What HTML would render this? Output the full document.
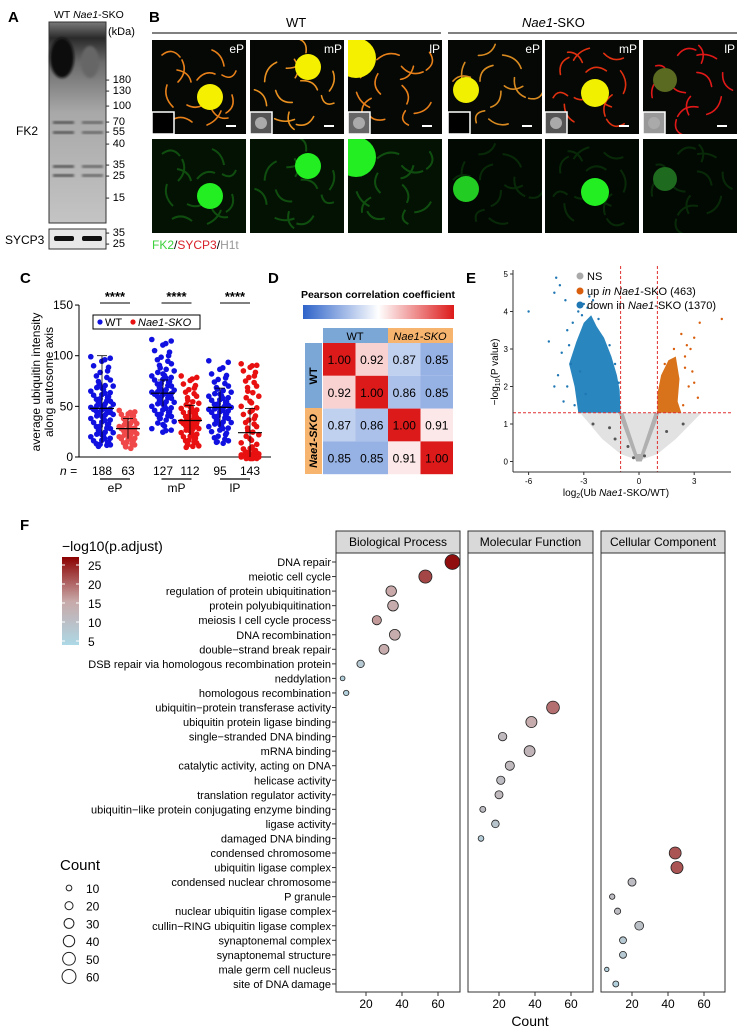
<!DOCTYPE html>
<html><head><meta charset="utf-8">
<style>
html,body{margin:0;padding:0;background:#fff;}
svg{display:block;font-family:"Liberation Sans",Arial,sans-serif;}
</style></head>
<body>
<svg id="fig" width="742" height="1029" viewBox="0 0 742 1029" xmlns="http://www.w3.org/2000/svg">
<defs>
<linearGradient id="blotGrad" x1="0" y1="0" x2="0" y2="1">
<stop offset="0" stop-color="#7a7a7a"/><stop offset="0.08" stop-color="#2a2a2a"/><stop offset="0.2" stop-color="#6a6a6a"/><stop offset="0.45" stop-color="#a8a8a8"/><stop offset="1" stop-color="#c4c4c4"/>
</linearGradient>
<linearGradient id="pearsonGrad" x1="0" y1="0" x2="1" y2="0">
<stop offset="0" stop-color="#2e63c9"/><stop offset="0.5" stop-color="#ffffff"/><stop offset="1" stop-color="#dd1a1a"/>
</linearGradient>
<linearGradient id="padjGrad" x1="0" y1="1" x2="0" y2="0">
<stop offset="0" stop-color="#add8e6"/><stop offset="0.5" stop-color="#c8a8a8"/><stop offset="1" stop-color="#8b0000"/>
</linearGradient>
<filter id="blur1"><feGaussianBlur stdDeviation="1.2"/></filter>
<clipPath id="tileClip"><rect x="0" y="0" width="94" height="94"/></clipPath>
</defs>
<g id="root"></g>
</svg>
<script>
// ---------- Panel C data ----------
const cGroups = ["WT eP","KO eP","WT mP","KO mP","WT lP","KO lP"];
const cCounts = ["188","63","127","112","95","143"];
const cStages = ["eP","mP","lP"];
const cMedians = [48,28,63,36,49,24];
const cSdLow = [14,18,50,22,30,0];
const cSdHigh = [100,38,76,51,68,48];
const cWTeP = [99,96,90,85,80,76,72,70,68,65,63,61,59,57,55,54,52,50,49,48,47,46,45,44,43,42,40,38,36,34,32,30,28,26,24,22,20,18,16,14,13,12];
const cKOeP = [46,44,42,40,38,36,35,33,32,30,29,28,27,26,25,24,23,22,20,19,18,16,14,12,10];
const cWTmP = [116,112,105,100,96,92,88,85,82,80,78,76,74,72,70,68,66,65,64,63,62,61,60,58,56,54,52,50,48,46,44,42,40,38,35,32,28,26];
const cKOmP = [80,77,72,68,64,60,56,53,50,48,46,44,42,40,39,38,37,36,35,34,33,32,31,30,29,28,26,24,22,20,18,16,14,12,11];
const cWTlP = [95,88,82,78,74,70,67,64,62,60,58,56,54,52,51,50,49,48,47,46,44,42,40,38,36,34,32,30,28,25,22,19,16,15];
const cKOlP = [92,90,85,80,75,70,65,60,55,50,46,42,38,34,30,26,22,18,14,10,8,6,5,4,4,3,3,2,2,2,1,1,1,0,0,0,0,0];
const cYTicks = [0,50,100,150];
// ---------- Panel D data ----------
const dLabels = ["WT","Nae1-SKO"];
const dRow1 = [1.00,0.92,0.87,0.85];
const dRow2 = [0.92,1.00,0.86,0.85];
const dRow3 = [0.87,0.86,1.00,0.91];
const dRow4 = [0.85,0.85,0.91,1.00];
// ---------- Panel E data ----------
const eXTicks = [-6,-3,0,3];
const eYTicks = [0,1,2,3,4,5];
const eDownHull = [[-1,1.3],[-1.05,1.9],[-1.2,2.3],[-1.5,2.8],[-1.9,3.3],[-2.3,3.6],[-2.6,3.9],[-3.0,3.7],[-3.4,3.2],[-3.8,2.6],[-3.5,2.0],[-3.3,1.3]];
const eUpHull = [[1,1.3],[1,1.8],[1.2,2.3],[1.6,2.7],[2.0,2.8],[2.2,2.2],[2.1,1.6],[2.3,1.3]];
const eNsLight = [[-3.2,1.3],[-2,0.6],[-1,0.2],[0,0.02],[1,0.2],[2,0.6],[3.4,1.3]];
const eNsV = [[-0.15,0],[0.15,0],[0.9,1.0],[1.1,1.3],[0.85,1.3],[0.1,0.2],[-0.1,0.2],[-0.85,1.3],[-1.1,1.3],[-0.9,1.0]];
const eDownPts = [[-6,4.0],[-4.5,4.9],[-4.3,4.7],[-4.6,4.5],[-4.0,4.3],[-4.9,3.2],[-4.2,2.9],[-3.9,3.5],[-3.6,3.7],[-3.3,4.0],[-3.0,4.2],[-2.8,4.1],[-4.4,2.3],[-3.7,2.6],[-4.1,1.6],[-3.5,1.5],[-3.9,2.0],[-2.5,4.3],[-2.7,4.4],[-3.1,3.9],[-2.2,3.8],[-1.6,3.1],[-1.3,2.6],[-3.8,3.1],[-4.6,2.0],[-3.2,2.4],[-2.9,1.8],[-1.1,2.1]];
const eUpPts = [[4.5,3.8],[3.3,3.7],[3.0,3.3],[2.8,3.0],[2.5,2.8],[2.6,3.1],[2.9,2.4],[2.7,2.0],[3.2,1.7],[2.4,1.5],[2.5,2.5],[3.0,2.1],[2.3,3.4],[1.9,3.0],[1.4,2.6]];
const eNsPts = [[-1.6,0.9],[-1.3,0.6],[-0.6,0.4],[0.3,0.15],[1.5,0.8],[-2.5,1.0],[2.4,1.0],[-0.3,0.1]];
// ---------- Panel F data ----------
const fTerms = ["DNA repair","meiotic cell cycle","regulation of protein ubiquitination","protein polyubiquitination","meiosis I cell cycle process","DNA recombination","double\u2212strand break repair","DSB repair via homologous recombination protein","neddylation","homologous recombination","ubiquitin\u2212protein transferase activity","ubiquitin protein ligase binding","single\u2212stranded DNA binding","mRNA binding","catalytic activity, acting on DNA","helicase activity","translation regulator activity","ubiquitin\u2212like protein conjugating enzyme binding","ligase activity","damaged DNA binding","condensed chromosome","ubiquitin ligase complex","condensed nuclear chromosome","P granule","nuclear ubiquitin ligase complex","cullin\u2212RING ubiquitin ligase complex","synaptonemal complex","synaptonemal structure","male germ cell nucleus","site of DNA damage"];
const fFacet = [0,0,0,0,0,0,0,0,0,0,1,1,1,1,1,1,1,1,1,1,2,2,2,2,2,2,2,2,2,2];
const fCount = [68,53,34,35,26,36,30,17,7,9,50,38,22,37,26,21,20,11,18,10,44,45,20,9,12,24,15,15,6,11];
const fPadj = [26,22,15,14,16,14,14,7,5,5,19,14,11,12,11,10,11,10,8,6,21,21,10,10,10,9,7,7,5,5];
const fFacetNames = ["Biological Process","Molecular Function","Cellular Component"];
const fXTicks = [20,40,60];
const fSizeLegend = [10,20,30,40,50,60];
const fColorTicks = [5,10,15,20,25];
// ---------- Panel A data ----------
const aMarkers = ["180","130","100","70","55","40","35","25","15"];
const aMarkerY = [79,90,105,121,131,143,164,175,197];

const NS="http://www.w3.org/2000/svg";
const root=document.getElementById('root');
function el(tag,attrs,parent){const e=document.createElementNS(NS,tag);for(const k in attrs)e.setAttribute(k,attrs[k]);(parent||root).appendChild(e);return e;}
function txt(s,x,y,attrs,parent){const t=el('text',Object.assign({x:x,y:y,'font-size':11,fill:'#000'},attrs||{}),parent);t.textContent=s;return t;}

// ================= Panel A =================
const gA=el('g',{});


txt('A',8,22,{'font-size':15,'font-weight':'bold'},gA);
const hA=txt('WT ',54,18,{'font-size':10.5},gA);
const hAi=el('tspan',{'font-style':'italic'},hA);hAi.textContent='Nae1';
const hAs=el('tspan',{},hA);hAs.textContent='-SKO';
txt('(kDa)',108,35,{'font-size':11},gA);
const blot=el('rect',{x:49,y:22,width:57,height:201,fill:'url(#blotGrad)',stroke:'#333','stroke-width':1},gA);


el('ellipse',{cx:62,cy:58,rx:12,ry:20,fill:'#111',filter:'url(#blur1)'},gA);
el('ellipse',{cx:90,cy:62,rx:9,ry:16,fill:'#666',filter:'url(#blur1)'},gA);
[121,131,165,174].forEach((y,i)=>{el('rect',{x:53,y:y,width:21,height:3,fill:'#555',filter:'url(#blur1)'},gA);el('rect',{x:82,y:y,width:21,height:3,fill:'#666',filter:'url(#blur1)'},gA);});
txt('FK2',16,135,{'font-size':12},gA);
aMarkers.forEach((m,i)=>{txt('- '+m,106,aMarkerY[i]+4,{'font-size':11},gA);});
const sy=el('rect',{x:49,y:229,width:57,height:20,fill:'#e8e8e8',stroke:'#333','stroke-width':1},gA);


el('rect',{x:54,y:236,width:20,height:5,rx:2,fill:'#111'},gA);
el('rect',{x:82,y:236,width:20,height:5,rx:2,fill:'#111'},gA);
txt('SYCP3',5,244,{'font-size':12},gA);
txt('- 35',106,236,{'font-size':11},gA);
txt('- 25',106,247,{'font-size':11},gA);

// ================= Panel B =================
const gB=el('g',{});


txt('B',149,22,{'font-size':15,'font-weight':'bold'},gB);
txt('WT',286,27,{'font-size':13},gB);
el('line',{x1:152,y1:33,x2:441,y2:33,stroke:'#000','stroke-width':1},gB);
const koT=txt('',522,27,{'font-size':13},gB);
const koI=el('tspan',{'font-style':'italic'},koT);koI.textContent='Nae1';
const koS=el('tspan',{},koT);koS.textContent='-SKO';
el('line',{x1:448,y1:33,x2:737,y2:33,stroke:'#000','stroke-width':1},gB);
const tileX=[152,250,348,448,545,643];
const tileLab=['eP','mP','lP','eP','mP','lP'];
const blobs=[[58,57,13],[58,27,13],[8,18,20],[18,50,13],[50,53,14],[22,40,12]];
const topBlobCol=['#f5f000','#f5f000','#f5f000','#f0f000','#f0f000','#5a6a20'];
const lineCol=['#e8801a','#e89020','#e8801a','#d88a20','#e03010','#e01818'];
const botBlobCol=['#22ee22','#22ee22','#22ee22','#22cc22','#22ee22','#1e6a1e'];
const insetCol=['#000','#555','#666','#000','#555','#999'];
const curves=["M10 15 q10 -8 18 2","M30 20 q6 12 -4 22","M60 10 q10 4 12 16","M70 35 q10 6 14 -4","M15 45 q-4 12 6 22","M35 65 q12 6 20 -4","M60 70 q6 10 16 8","M20 80 q10 -6 20 2","M45 40 q8 -10 18 -6","M80 55 q4 12 -6 18","M25 30 q12 2 14 12","M55 85 q10 -4 14 -14"];
tileX.forEach((x,i)=>{
 const g=el('g',{transform:`translate(${x},40)`},gB);
 
 
 const gc=el('g',{'clip-path':'url(#tileClip)'},g);
 el('rect',{x:0,y:0,width:94,height:94,fill:'#050805'},gc);
 const cg=el('g',{transform:`rotate(${i*47} 47 47)`},gc);
 curves.forEach(c=>el('path',{d:c,fill:'none',stroke:lineCol[i],'stroke-width':1.6,'stroke-linecap':'round'},cg));
 el('circle',{cx:blobs[i][0],cy:blobs[i][1],r:blobs[i][2],fill:topBlobCol[i]},gc);
 el('rect',{x:0,y:72,width:22,height:22,fill:insetCol[i],stroke:'#fff','stroke-width':1.5},gc);
 if(insetCol[i]!=='#000')el('circle',{cx:11,cy:83,r:6,fill:'#aaa'},gc);
 el('line',{x1:74,y1:86,x2:84,y2:86,stroke:'#fff','stroke-width':2},gc);
 txt(tileLab[i],92,13,{'font-size':12,fill:'#fff','text-anchor':'end'},gc);
 const g2=el('g',{transform:`translate(${x},139)`},gB);
 
 
 const gc2=el('g',{'clip-path':'url(#tileClip)'},g2);
 el('rect',{x:0,y:0,width:94,height:94,fill:i<3?'#041204':'#020902'},gc2);
 const cg2=el('g',{transform:`rotate(${i*47} 47 47)`,opacity:i<3?0.5:0.25},gc2);
 curves.forEach(c=>el('path',{d:c,fill:'none',stroke:'#1a8a1a','stroke-width':2},cg2));
 el('circle',{cx:blobs[i][0],cy:blobs[i][1],r:blobs[i][2],fill:botBlobCol[i]},gc2);
});
const lg=txt('',152,249,{'font-size':12},gB);
[['FK2','#3ad13a'],['/','#000'],['SYCP3','#d8202a'],['/','#000'],['H1t','#999']].forEach(p=>{const t=el('tspan',{fill:p[1]},lg);t.textContent=p[0];});

// ================= Panel C =================
const gC=el('g',{});


txt('C',20,283,{'font-size':15,'font-weight':'bold'},gC);
const cY=v=>457-v*1.013;
const cGX=[102,128,163,190,220,250];
el('line',{x1:79,y1:cY(150),x2:79,y2:457,stroke:'#000'},gC);
el('line',{x1:79,y1:457,x2:271,y2:457,stroke:'#000'},gC);
cYTicks.forEach(v=>{el('line',{x1:75,y1:cY(v),x2:79,y2:cY(v),stroke:'#000'},gC);txt(String(v),73,cY(v)+4,{'font-size':12,'text-anchor':'end'},gC);});
const yt=txt('',0,0,{'font-size':12,'text-anchor':'middle',transform:'translate(40,382) rotate(-90)'},gC);
const yt1=el('tspan',{x:0,dy:0},yt);yt1.textContent='average ubiquitin intensity';
const yt2=el('tspan',{x:0,dy:13},yt);yt2.textContent='along autosome axis';
const cSets=[cWTeP,cKOeP,cWTmP,cKOmP,cWTlP,cKOlP];
cSets.forEach((vals,gi)=>{
 const col=gi%2===0?'#1010e0':(gi===1?'#f04848':'#e81010');
 const gg=el('g',{},gC);
 
 
 vals.forEach((v,j)=>{
   const off=((j*5)%9-4)*(gi%2===0?2.8:2.2);
   const c=el('circle',{cx:cGX[gi]+off,cy:cY(v),r:2.8,fill:col},gg);
   
   
   const c2=el('circle',{cx:cGX[gi]-off*0.6+1.5,cy:cY(v)+1.5,r:2.8,fill:col},gg);
   
   
 });
 el('line',{x1:cGX[gi]-12,x2:cGX[gi]+12,y1:cY(cMedians[gi]),y2:cY(cMedians[gi]),stroke:'#000','stroke-width':1.2},gg);
 el('line',{x1:cGX[gi],x2:cGX[gi],y1:cY(cSdLow[gi]),y2:cY(cSdHigh[gi]),stroke:'#000','stroke-width':0.8},gg);
 el('line',{x1:cGX[gi]-5,x2:cGX[gi]+5,y1:cY(cSdHigh[gi]),y2:cY(cSdHigh[gi]),stroke:'#000','stroke-width':0.8},gg);
 txt(cCounts[gi],cGX[gi],475,{'font-size':12,'text-anchor':'middle'},gC);
});
txt('n =',60,475,{'font-size':12,'font-style':'italic'},gC);
cStages.forEach((s,i)=>{
 const cx=(cGX[i*2]+cGX[i*2+1])/2;
 el('line',{x1:cx-15,x2:cx+15,y1:479,y2:479,stroke:'#000','stroke-width':1.2},gC);
 txt(s,cx,492,{'font-size':12,'text-anchor':'middle'},gC);
 txt('****',cx,301,{'font-size':13,'text-anchor':'middle','font-weight':'bold'},gC);
 el('line',{x1:cx-15,x2:cx+15,y1:303,y2:303,stroke:'#000'},gC);
});
const leg=el('g',{},gC);


el('rect',{x:93,y:315,width:107,height:14,fill:'#fff',stroke:'#000'},leg);
el('circle',{cx:100,cy:322,r:2.6,fill:'#1010e0'},leg);
txt('WT',105,326,{'font-size':11},leg);
el('circle',{cx:133,cy:322,r:2.6,fill:'#e81010'},leg);
txt('Nae1-SKO',138,326,{'font-size':11,'font-style':'italic'},leg);

// ================= Panel D =================
const gD=el('g',{});


txt('D',268,283,{'font-size':15,'font-weight':'bold'},gD);
txt('Pearson correlation coefficient',378,298,{'font-size':10.5,'font-weight':'bold','text-anchor':'middle'},gD);
el('rect',{x:303,y:305,width:151,height:14,fill:'url(#pearsonGrad)'},gD);
function dColor(v){const mid=0.9;let t=Math.min(1,Math.abs(v-mid)/0.1);const w=[255,255,255];const c=v>=mid?[221,26,26]:[46,99,201];return 'rgb('+w.map((a,k)=>Math.round(a+(c[k]-a)*t)).join(',')+')';}
el('rect',{x:323,y:328,width:65,height:15,fill:'#7ba7d6'},gD);
el('rect',{x:388,y:328,width:65,height:15,fill:'#f7b46e'},gD);
txt('WT',355,340,{'font-size':11,'text-anchor':'middle'},gD);
txt('Nae1-SKO',420,340,{'font-size':11,'font-style':'italic','text-anchor':'middle'},gD);
el('rect',{x:305,y:343,width:17,height:65,fill:'#7ba7d6'},gD);
el('rect',{x:305,y:408,width:17,height:66,fill:'#f7b46e'},gD);
txt('WT',0,0,{'font-size':11,'text-anchor':'middle','font-weight':'bold',transform:'translate(317,376) rotate(-90)'},gD);
txt('Nae1-SKO',0,0,{'font-size':11,'font-style':'italic','font-weight':'bold','text-anchor':'middle',transform:'translate(317,441) rotate(-90)'},gD);
[dRow1,dRow2,dRow3,dRow4].forEach((row,r)=>{row.forEach((v,c)=>{
 const x=323+c*32.5,y=343+r*32.8;
 const cell=el('rect',{x:x,y:y,width:32.5,height:32.8,fill:dColor(v)},gD);
 
 
 txt(v.toFixed(2),x+16.25,y+21,{'font-size':12,'text-anchor':'middle'},gD);
});});

// ================= Panel E =================
const gE=el('g',{});


txt('E',466,283,{'font-size':15,'font-weight':'bold'},gE);
const eX=v=>639+v*18.4, eY=v=>461.5-v*37.5;
const poly=(pts,fill)=>el('polygon',{points:pts.map(p=>eX(p[0])+','+eY(p[1])).join(' '),fill:fill},gE);
poly(eNsLight,'#e2e2e2');
poly(eNsV,'#b0b0b0');
const dh=poly(eDownHull,'#2a86bf');
const uh=poly(eUpHull,'#d8731c');
eDownPts.forEach(p=>{const c=el('circle',{cx:eX(p[0]),cy:eY(p[1]),r:1.2,fill:'#1f77b4'},gE);});
eUpPts.forEach(p=>{const c=el('circle',{cx:eX(p[0]),cy:eY(p[1]),r:1.2,fill:'#d95f0e'},gE);});
eNsPts.forEach(p=>{const c=el('circle',{cx:eX(p[0]),cy:eY(p[1]),r:1.5,fill:'#555'},gE);});
el('line',{x1:513,x2:731,y1:eY(1.3),y2:eY(1.3),stroke:'#e03030','stroke-dasharray':'3,2'},gE);
el('line',{x1:eX(-1),x2:eX(-1),y1:266,y2:472,stroke:'#e03030','stroke-dasharray':'3,2'},gE);
el('line',{x1:eX(1),x2:eX(1),y1:266,y2:472,stroke:'#e03030','stroke-dasharray':'3,2'},gE);
el('line',{x1:513,x2:513,y1:270,y2:472,stroke:'#333'},gE);
el('line',{x1:513,x2:731,y1:472,y2:472,stroke:'#333'},gE);
eYTicks.forEach(v=>{el('line',{x1:510,x2:513,y1:eY(v),y2:eY(v),stroke:'#333'},gE);txt(String(v),508,eY(v)+3,{'font-size':8,'text-anchor':'end'},gE);});
eXTicks.forEach(v=>{el('line',{x1:eX(v),x2:eX(v),y1:472,y2:475,stroke:'#333'},gE);txt(String(v),eX(v),484,{'font-size':8,'text-anchor':'middle'},gE);});
const xtE=txt('log',616,496,{'font-size':10,'text-anchor':'middle'},gE);
const sub=el('tspan',{'font-size':7,dy:2},xtE);sub.textContent='2';
const r1=el('tspan',{dy:-2},xtE);r1.textContent='(Ub ';
const r2=el('tspan',{'font-style':'italic'},xtE);r2.textContent='Nae1';
const r3=el('tspan',{},xtE);r3.textContent='-SKO/WT)';
const ytE=txt('\u2212log',0,0,{'font-size':10,'text-anchor':'middle',transform:'translate(498,372) rotate(-90)'},gE);
const s2=el('tspan',{'font-size':7,dy:2},ytE);s2.textContent='10';
const s3=el('tspan',{dy:-2},ytE);s3.textContent='(P value)';
const legE=el('g',{},gE);


el('circle',{cx:580,cy:276,r:3.5,fill:'#aaa'},legE);txt('NS',587,280,{'font-size':11},legE);
el('circle',{cx:580,cy:291,r:3.5,fill:'#d95f0e'},legE);
const u=txt('up ',587,295,{'font-size':11},legE);const ui=el('tspan',{'font-style':'italic'},u);ui.textContent='in Nae1';const us=el('tspan',{},u);us.textContent='-SKO (463)';
el('circle',{cx:580,cy:305,r:3.5,fill:'#1f77b4'},legE);
const d=txt('down in ',587,309,{'font-size':11},legE);const di=el('tspan',{'font-style':'italic'},d);di.textContent='Nae1';const ds=el('tspan',{},d);ds.textContent='-SKO (1370)';

// ================= Panel F =================
const gF=el('g',{});


txt('F',20,530,{'font-size':15,'font-weight':'bold'},gF);
const facetL=[336,468,601], facetR=[460,593,725], zeroX=[330,463,596];
const fX=(f,c)=>zeroX[f]+c*1.8;
const fRowY=i=>562+i*14.55;
const fR=c=>0.9*Math.sqrt(c);
function fCol(v){const t=Math.max(0,Math.min(1,(v-3)/24));let a,b,s;if(t<0.5){a=[173,216,230];b=[200,168,168];s=t/0.5;}else{a=[200,168,168];b=[139,0,0];s=(t-0.5)/0.5;}return 'rgb('+a.map((x,k)=>Math.round(x+(b[k]-x)*s)).join(',')+')';}
facetL.forEach((x,f)=>{
 const st=el('rect',{x:x,y:531,width:facetR[f]-x,height:22,fill:'#d9d9d9',stroke:'#333'},gF);
 
 
 txt(fFacetNames[f],(x+facetR[f])/2,546,{'font-size':12,'text-anchor':'middle'},gF);
 el('rect',{x:x,y:553,width:facetR[f]-x,height:439,fill:'#fff',stroke:'#333'},gF);
 fXTicks.forEach(t=>{el('line',{x1:fX(f,t),x2:fX(f,t),y1:992,y2:996,stroke:'#333'},gF);txt(String(t),fX(f,t),1008,{'font-size':12,'text-anchor':'middle'},gF);});
});
txt('Count',530,1026,{'font-size':14,'text-anchor':'middle'},gF);
fTerms.forEach((t,i)=>{
 const y=fRowY(i);
 txt(t,331,y+4,{'font-size':11,'text-anchor':'end'},gF);
 el('line',{x1:332,x2:336,y1:y,y2:y,stroke:'#333'},gF);
 const c=el('circle',{cx:fX(fFacet[i],fCount[i]),cy:y,r:fR(fCount[i]),fill:fCol(fPadj[i]),stroke:'#222','stroke-width':0.8},gF);
 
 
});
const cl=el('g',{},gF);


txt('\u2212log10(p.adjust)',62,551,{'font-size':14},cl);
el('rect',{x:62,y:557,width:17,height:88,fill:'url(#padjGrad)'},cl);
fColorTicks.forEach(v=>{const y=641-(v-5)*3.8;txt(String(v),88,y+5,{'font-size':12},cl);el('line',{x1:62,x2:65,y1:y,y2:y,stroke:'#fff'},cl);el('line',{x1:76,x2:79,y1:y,y2:y,stroke:'#fff'},cl);});
const sl=el('g',{},gF);


txt('Count',60,870,{'font-size':15},sl);
fSizeLegend.forEach((v,i)=>{const y=888+i*17.7;el('circle',{cx:69,cy:y,r:fR(v),fill:'none',stroke:'#222'},sl);txt(String(v),86,y+5,{'font-size':12},sl);});
</script>
</body></html>
